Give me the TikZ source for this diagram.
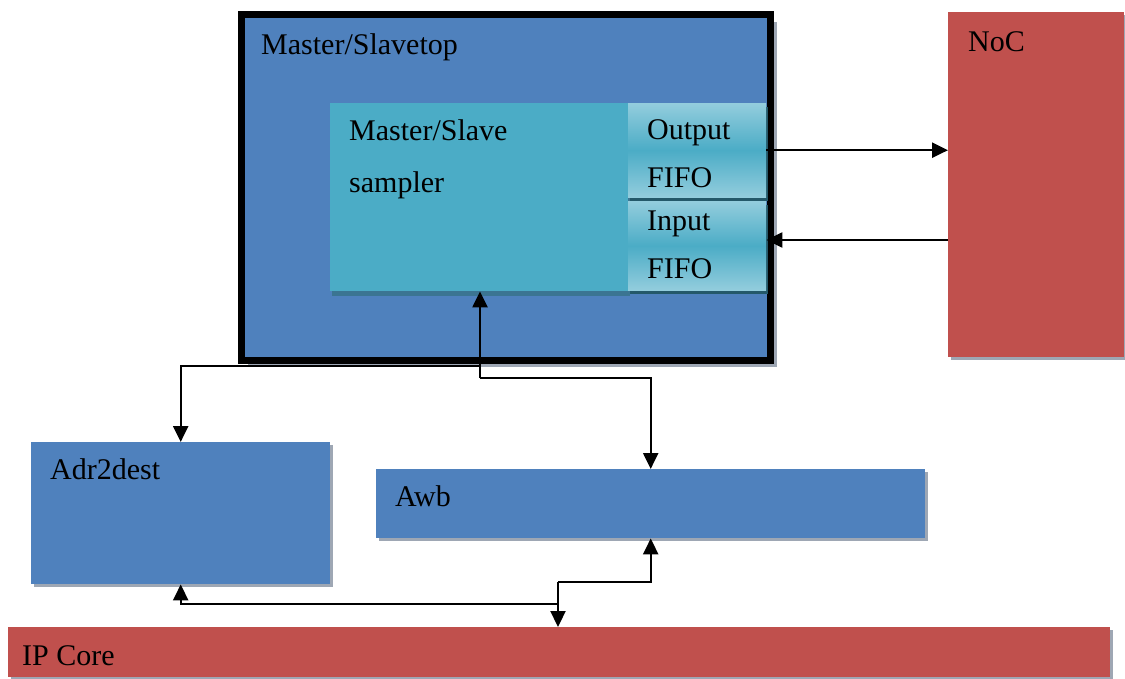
\documentclass[tikz,border=0pt]{standalone}
\usepackage{fontspec}
\setmainfont{Liberation Serif}
\usetikzlibrary{arrows.meta,shadows}
\definecolor{accBlue}{HTML}{4F81BD}
\definecolor{accTeal}{HTML}{4BACC6}
\definecolor{accTealLight}{HTML}{93CDDD}
\definecolor{accRed}{HTML}{C0504D}
\definecolor{shadowGrey}{HTML}{9EA7B4}
\definecolor{samplerShade}{HTML}{3B7592}
\definecolor{tealDark}{HTML}{24596A}
\begin{document}
\begin{tikzpicture}[x=1pt,y=-1pt,
  font=\fontsize{30}{35}\selectfont,
  blk/.style={rectangle, inner sep=0pt, anchor=north west,
    drop shadow={shadow xshift=3pt,shadow yshift=-3pt,fill=shadowGrey,opacity=1}},
  fifo/.style={rectangle, inner sep=0pt, anchor=north west,
    top color=accTealLight, bottom color=accTealLight, middle color=accTeal,
    drop shadow={shadow xshift=2pt,shadow yshift=-4pt,fill=tealDark,opacity=1}},
  txt/.style={anchor=base west, inner sep=0pt},
  wire/.style={line width=2.3pt, -{Triangle[length=16pt,width=15pt]}}]
\useasboundingbox (0,0) rectangle (1125,679);

% top-level wrapper with heavy border
\node[blk, fill=accBlue, draw=black, line width=7pt,
  drop shadow={shadow xshift=7pt,shadow yshift=-7pt,fill=shadowGrey,opacity=1},
  minimum width=529pt, minimum height=345pt] (top) at (237.5,11.5) {};
\node[txt] (tTop) at (261,55) {Master/Slavetop};

% sampler and its FIFOs
\node[blk, fill=accTeal,
  drop shadow={shadow xshift=2pt,shadow yshift=-5pt,fill=samplerShade,opacity=1},
  minimum width=298pt, minimum height=188pt] (sampler) at (330,103) {};
\node[txt] (tMS) at (349,141) {Master/Slave};
\node[txt] (tSam) at (349,193) {sampler};

\node[fifo, minimum width=138pt, minimum height=94pt] (outF) at (628,103) {};
\node[txt] (tOut) at (647,140) {Output};
\node[txt] (tOF) at (647,188) {FIFO};

\node[fifo, minimum width=138pt, minimum height=89pt] (inF) at (628,201) {};
\node[txt] (tIn) at (647,231) {Input};
\node[txt] (tIF) at (647,279) {FIFO};

% network on chip
\node[blk, fill=accRed, minimum width=176pt, minimum height=345pt] (noc) at (948,12) {};
\node[txt] (tNoc) at (968,52) {NoC};

% lower blocks
\node[blk, fill=accBlue, minimum width=299pt, minimum height=142pt] (adr) at (31,442) {};
\node[txt] (tAdr) at (50,479) {Adr2dest};

\node[blk, fill=accBlue, minimum width=549pt, minimum height=69pt] (awb) at (376,469) {};
\node[txt] (tAwb) at (395,506) {Awb};

\node[blk, fill=accRed, minimum width=1102pt, minimum height=50pt] (ipc) at (8,627) {};
\node[txt] (tIP) at (22,665) {IP Core};

% FIFO <-> NoC links
\draw[wire] (outF.east) -- (outF.east -| noc.west);
\draw[wire] (noc.west |- 0,240) -- (inF.east |- 0,240);

% sampler fan-out
\coordinate (jTop) at (480,366);
\coordinate (jR) at (480,378);
\draw[wire] (jR) -- (jR |- sampler.south);
\draw[wire] (jTop) -| (adr.north);
\draw[wire] (jR) -| (awb.north);

% IP core fan-in
\coordinate (jB) at (558,604);
\coordinate (jS) at (558,582);
\draw[wire] (jB) -| (adr.south);
\draw[wire] (jS) -- (jS |- ipc.north);
\draw[wire] (jS) -| (awb.south);
\end{tikzpicture}
\end{document}
